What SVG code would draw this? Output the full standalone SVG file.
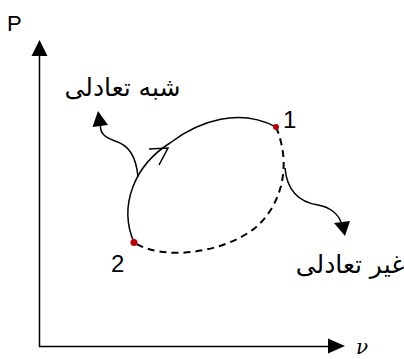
<svg xmlns="http://www.w3.org/2000/svg" width="404" height="359" viewBox="0 0 404 359">
<style>
.ln{fill:none;stroke:#000;stroke-width:1.5}
.dash{fill:none;stroke:#000;stroke-width:2;stroke-dasharray:7 5}
.head{fill:#000;stroke:none}
.pt{fill:#c00000}
.num{font-family:"Liberation Sans","DejaVu Sans",sans-serif;font-size:24px;fill:#000}
.ar{font-family:"DejaVu Sans",sans-serif;font-size:25px;fill:#000}
</style>
<rect width="404" height="359" fill="#fff"/>
<g id="axes">
<path class="ln" d="M39.5,54 V346.5 H330"/>
<polygon class="head" points="39.5,40 31.5,56 47.5,56"/>
<polygon class="head" points="345,346 328,338.5 328,353.5"/>
<text x="7" y="31" class="num" style="font-size:22px">P</text>
<text x="356" y="354" style="font-family:'DejaVu Serif',serif;font-style:italic;font-size:20px">ν</text>
</g>
<g id="connectors">
<path class="ln" d="M134,242.5 C118,205 135,165 170,143 C200,120 240,108 276,127"/>
<polyline class="ln" points="149,149 168,148 159,165"/>
<path class="dash" d="M276,127 C292,165 282,205 255,228 C225,252 165,262 134,242.5"/>
<path class="ln" d="M138,177 C136,155 128,145 115,141 C104,137 100,133 100.5,125"/>
<polygon class="head" points="98,111 92.5,127 108,125"/>
<path class="ln" d="M285,168 C287,190 298,202 318,205 C330,207 338,214 341,222"/>
<polygon class="head" points="345,236 334,223 350,221"/>
</g>
<g id="node1">
<circle class="pt" cx="276" cy="127" r="3"/>
<text x="283" y="128" class="num">1</text>
</g>
<g id="node2">
<circle class="pt" cx="134" cy="242.5" r="3.5"/>
<text x="111" y="272" class="num">2</text>
</g>
<g id="label-quasi">
<text x="122.5" y="96" class="ar" text-anchor="middle" direction="rtl">شبه تعادلی</text>
</g>
<g id="label-non">
<text x="350" y="273" class="ar" text-anchor="middle" direction="rtl">غیر تعادلی</text>
</g>
</svg>
